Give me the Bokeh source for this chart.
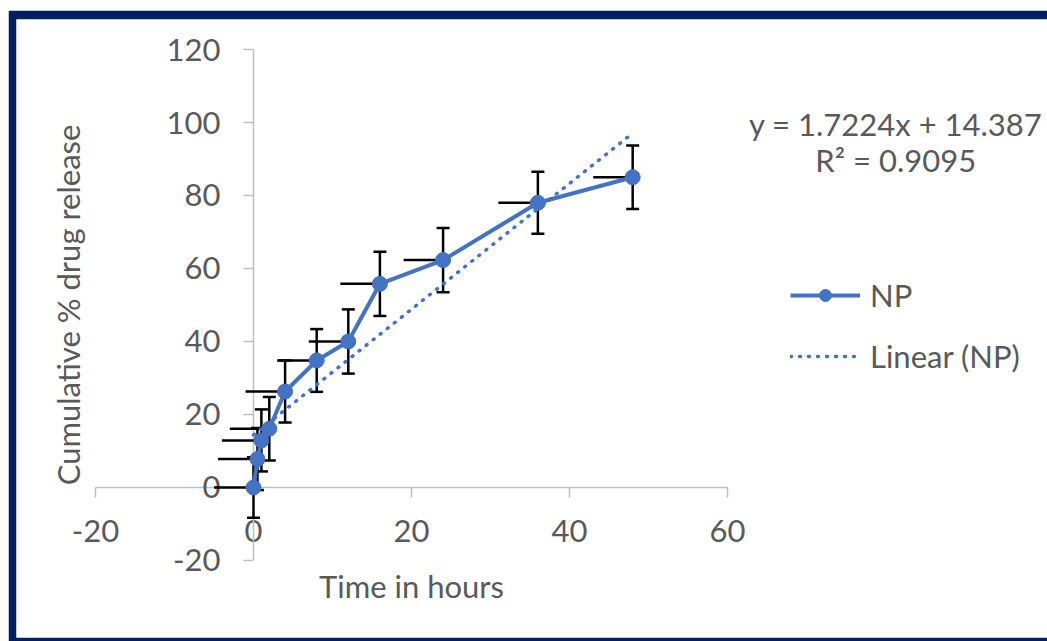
from bokeh.plotting import figure
from bokeh.models import (ColumnDataSource, Whisker, TeeHead, Label, Legend, LegendItem,
                          FixedTicker, CustomJSTickFormatter)
from bokeh.embed import file_html
from bokeh.resources import INLINE

# ---------------- data ----------------
time_h = [0, 0.5, 1, 2, 4, 8, 12, 16, 24, 36, 48]
release = [0.0, 7.8, 12.9, 16.1, 26.3, 34.8, 40.0, 55.8, 62.3, 78.0, 85.0]
release_err = [8.3, 8.5, 8.5, 8.7, 8.5, 8.6, 8.8, 8.8, 8.8, 8.5, 8.7]
time_err = [5, 5, 5, 5, 5, 5, 5, 5, 5, 5, 5]

slope = 1.7224
intercept = 14.387
r_squared = 0.9095

x_ticks = [-20, 0, 20, 40, 60]
y_ticks = [-20, 0, 20, 40, 60, 80, 100, 120]

series_name = "NP"
trend_name = "Linear (NP)"
x_title = "Time in hours"
y_title = "Cumulative % drug release"

# ---------------- styles ----------------
BLUE = "#4472C4"
TXT = "#595959"
AXIS = "#BFBFBF"
NAVY = "#002060"
FONT = "Lato"
FS = "31px"

src = ColumnDataSource(dict(
    x=time_h,
    y=release,
    y_up=[v + e for v, e in zip(release, release_err)],
    y_lo=[v - e for v, e in zip(release, release_err)],
    x_lo=[t - e for t, e in zip(time_h, time_err)],
))

trend_x = [min(time_h), max(time_h)]
trend_src = ColumnDataSource(dict(x=trend_x, y=[slope * t + intercept for t in trend_x]))

p = figure(width=1039, height=631, x_range=(-30.0, 100.51), y_range=(-41.10, 128.22),
           output_backend="svg", toolbar_location=None,
           min_border_left=8, min_border_top=9, min_border_bottom=4, min_border_right=0,
           outline_line_color=None, background_fill_color="white",
           border_fill_color=NAVY)
p.styles = {"margin-left": "8px", "margin-top": "10px"}

p.xgrid.visible = False
p.ygrid.visible = False

fmt = CustomJSTickFormatter(code="return tick.toString();")
for ax, ticks, bnds in ((p.xaxis, x_ticks, (-20, 60)), (p.yaxis, y_ticks, (-20, 120))):
    ax.fixed_location = 0
    ax.bounds = bnds
    ax.ticker = FixedTicker(ticks=ticks, minor_ticks=[])
    ax.formatter = fmt
    ax.axis_line_color = AXIS
    ax.axis_line_width = 1.5
    ax.major_tick_line_color = AXIS
    ax.major_tick_line_width = 1.5
    ax.major_tick_in = 0
    ax.major_tick_out = 10
    ax.minor_tick_line_color = None
    ax.major_label_text_font = FONT
    ax.major_label_text_font_size = FS
    ax.major_label_text_color = TXT
    ax.axis_label_text_font = FONT
    ax.axis_label_text_font_size = FS
    ax.axis_label_text_color = TXT
    ax.axis_label_text_font_style = "normal"
    ax.level = "image"

p.xaxis.axis_label = x_title
p.yaxis.axis_label = y_title
p.xaxis.major_label_standoff = 23
p.yaxis.major_label_standoff = 23
p.xaxis.axis_label_standoff = 21
p.yaxis.axis_label_standoff = 77

# error bars
p.add_layout(Whisker(source=src, base="x", upper="y_up", lower="y_lo", dimension="height",
                     line_color="black", line_width=2.5, level="underlay",
                     upper_head=TeeHead(size=13, line_color="black", line_width=2.5),
                     lower_head=TeeHead(size=13, line_color="black", line_width=2.5)))
p.add_layout(Whisker(source=src, base="y", upper="x", lower="x_lo", dimension="width",
                     line_color="black", line_width=2.5, level="underlay",
                     upper_head=None, lower_head=None))

trend_r = p.line("x", "y", source=trend_src, line_color=BLUE, line_width=3.5,
                 line_dash="1 8", line_cap="round")
line_r = p.line("x", "y", source=src, line_color=BLUE, line_width=4, line_join="round")
pts_r = p.scatter("x", "y", source=src, size=15, marker="circle", fill_color=BLUE,
                  line_color=BLUE)

legend = Legend(items=[LegendItem(label=series_name, renderers=[line_r, pts_r]),
                       LegendItem(label=trend_name, renderers=[trend_r])],
                location=(774, 262), orientation="vertical", glyph_width=70,
                glyph_height=30, label_height=30, spacing=23, padding=0, margin=0,
                border_line_color=None, background_fill_alpha=0,
                label_text_font=FONT, label_text_font_size=FS,
                label_text_color=TXT, label_standoff=10)
p.add_layout(legend)

eq_text = f"y = {slope}x + {intercept}"
r2_text = f"R² = {r_squared}"
p.add_layout(Label(x=81.3, y=99.5, text=eq_text, text_align="center",
                   text_baseline="middle", text_font=FONT, text_font_size=FS,
                   text_color=TXT))
p.add_layout(Label(x=81.3, y=89.6, text=r2_text, text_align="center",
                   text_baseline="middle", text_font=FONT, text_font_size=FS,
                   text_color=TXT))

open("out.html", "w").write(file_html(p, INLINE))
